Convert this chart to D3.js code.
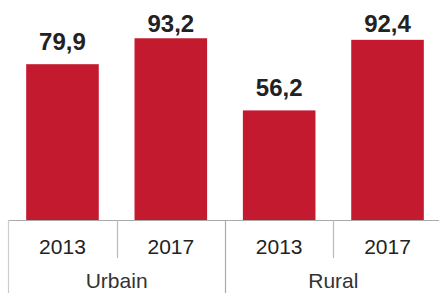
<!DOCTYPE html>
<html><head><meta charset="utf-8">
<script src="https://cdn.jsdelivr.net/npm/d3@7"></script>
<style>html,body{margin:0;padding:0;background:#fff;}svg{display:block;}</style>
</head><body>
<svg id="chart" width="439" height="293"></svg>
<script>
const groups = ["Urbain", "Rural"];
const years = ["2013", "2017"];
const categories = ["Urbain|2013", "Urbain|2017", "Rural|2013", "Rural|2017"];
const values = [79.9, 93.2, 56.2, 92.4];
const valueLabels = ["79,9", "93,2", "56,2", "92,4"];

const W = 439, H = 293;
const baseY = 220;
const svg = d3.select("#chart");

const x = d3.scaleBand().domain(categories).range([8.3, 441.7]).paddingInner(0).paddingOuter(0);
const xBar = d3.scaleBand().domain(categories).range([8.3, 441.7]).paddingInner(0.33).paddingOuter(0.165);
const xGroup = d3.scaleBand().domain(groups).range([8.3, 441.7]);
const y = d3.scaleLinear().domain([0, 100]).range([baseY, 25]);

const data = categories.map((c, i) => ({c, v: values[i], label: valueLabels[i], year: years[i % 2], group: groups[Math.floor(i / 2)]}));

svg.selectAll("rect.bar").data(data).join("rect")
  .attr("class", "bar")
  .attr("x", d => xBar(d.c))
  .attr("width", xBar.bandwidth())
  .attr("y", d => y(d.v))
  .attr("height", d => y(0) - y(d.v))
  .attr("fill", "#c41a2f");

svg.selectAll("text.val").data(data).join("text")
  .attr("class", "val")
  .attr("x", d => x(d.c) + x.bandwidth() / 2)
  .attr("y", d => Math.max(y(d.v) - 14, 32))
  .attr("text-anchor", "middle")
  .attr("font-family", "Liberation Sans, Arial, sans-serif")
  .attr("font-weight", "bold")
  .attr("font-size", 24)
  .attr("fill", "#222")
  .text(d => d.label);

// axis line
svg.append("line")
  .attr("x1", x.range()[0]).attr("x2", W)
  .attr("y1", baseY + 0.5).attr("y2", baseY + 0.5)
  .attr("stroke", "#aaa").attr("stroke-width", 1.2);

// group separators (full height)
svg.selectAll("line.gsep").data(groups).join("line")
  .attr("class", "gsep")
  .attr("x1", d => Math.round(xGroup(d)) + 0.5).attr("x2", d => Math.round(xGroup(d)) + 0.5)
  .attr("y1", baseY).attr("y2", H)
  .attr("stroke", (d, i) => i === 0 ? "#ccc" : "#aaa").attr("stroke-width", 1.2);

// year separators (short)
svg.selectAll("line.ysep").data(data.filter((d, i) => i % 2 === 1)).join("line")
  .attr("class", "ysep")
  .attr("x1", d => Math.round(x(d.c)) + 0.5).attr("x2", d => Math.round(x(d.c)) + 0.5)
  .attr("y1", baseY).attr("y2", 258)
  .attr("stroke", "#bbb").attr("stroke-width", 1.2);

svg.selectAll("text.year").data(data).join("text")
  .attr("class", "year")
  .attr("x", d => x(d.c) + x.bandwidth() / 2)
  .attr("y", 254)
  .attr("text-anchor", "middle")
  .attr("font-family", "Liberation Sans, Arial, sans-serif")
  .attr("font-size", 21)
  .attr("fill", "#222")
  .text(d => d.year);

svg.selectAll("text.group").data(groups).join("text")
  .attr("class", "group")
  .attr("x", d => xGroup(d) + xGroup.bandwidth() / 2)
  .attr("y", 288)
  .attr("text-anchor", "middle")
  .attr("font-family", "Liberation Sans, Arial, sans-serif")
  .attr("font-size", 21)
  .attr("fill", "#333")
  .text(d => d);
</script>
</body></html>
